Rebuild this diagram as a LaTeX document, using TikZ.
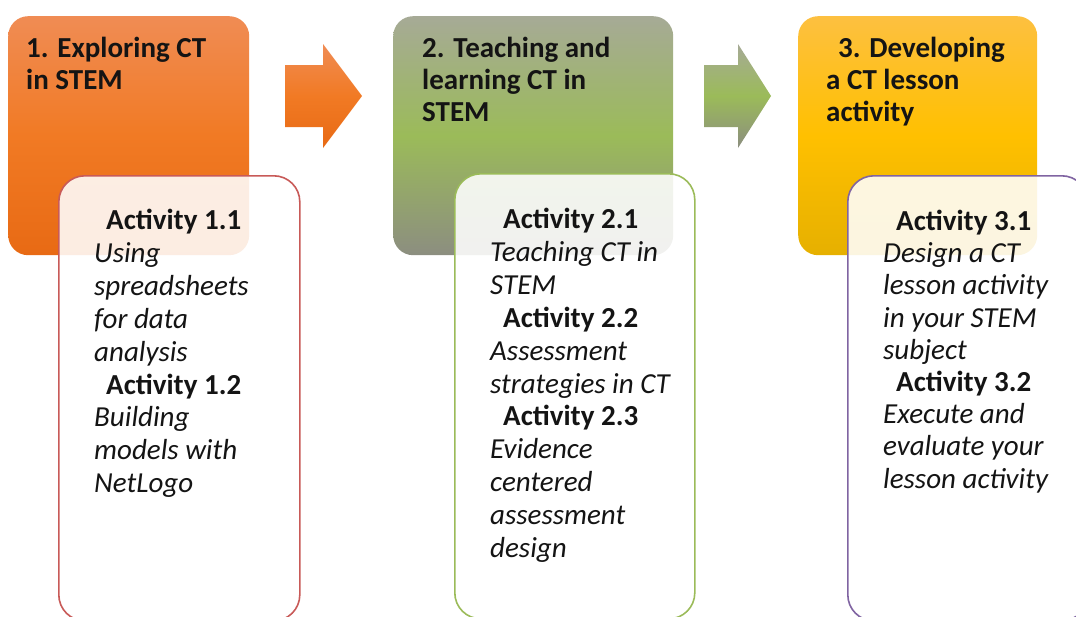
\documentclass[tikz,border=0pt]{standalone}
\usepackage{fontspec}
\setmainfont{Carlito}
\usetikzlibrary{positioning, calc}
\definecolor{orangeTop}{RGB}{240,140,84}
\definecolor{orangeMid}{RGB}{241,122,36}
\definecolor{orangeBot}{RGB}{232,106,20}
\definecolor{greenTop}{RGB}{166,170,150}
\definecolor{greenMid}{RGB}{155,187,89}
\definecolor{greenBot}{RGB}{140,142,128}
\definecolor{goldTop}{RGB}{253,192,64}
\definecolor{goldMid}{RGB}{255,192,0}
\definecolor{goldBot}{RGB}{230,176,0}
\definecolor{borderRed}{RGB}{200,90,88}
\definecolor{borderGreen}{RGB}{155,187,89}
\definecolor{borderPurple}{RGB}{128,100,162}
\definecolor{textDark}{RGB}{20,20,20}

\begin{document}
\begin{tikzpicture}[
    x=1pt, y=-1pt,
    every node/.style={text=textDark},
    stage/.style={rounded corners=20pt, anchor=north west, inner sep=0pt,
        minimum height=239pt},
    title/.style={anchor=north west, align=left, inner sep=0pt,
        font=\fontsize{29}{32}\selectfont\bfseries},
    activitybox/.style={rounded corners=26pt, anchor=north west, inner sep=0pt,
        fill=white, fill opacity=0.88, line width=1.6pt, minimum height=445pt},
    activitytext/.style={anchor=north west, align=left, inner sep=0pt,
        font=\fontsize{29}{32.9}\selectfont},
    tightertext/.style={activitytext, font=\fontsize{29}{32.2}\selectfont}
]
    \useasboundingbox (0,0) rectangle (1076,616);

    % stage boxes
    \node[stage, minimum width=241pt, top color=orangeTop, bottom color=orangeBot,
        middle color=orangeMid] (stageA) at (8,16) {};
    \node[stage, minimum width=280pt, top color=greenTop, bottom color=greenBot,
        middle color=greenMid] (stageB) at (393,16) {};
    \node[stage, minimum width=239pt, top color=goldTop, bottom color=goldBot,
        middle color=goldMid] (stageC) at (798,16) {};

    \node[title] (titleA) at (26,37) {1. Exploring CT\\in STEM};
    \node[title] (titleB) at (422,37) {2. Teaching and\\learning CT in\\STEM};
    \node[title] (titleC) at (826,37) {\hspace*{12pt}3. Developing\\a CT lesson\\activity};

    % block arrows between the stages
    \coordinate (arrowA) at (285,96);
    \coordinate (arrowB) at (704,96);
    \shade[top color=orangeTop, bottom color=orangeBot, middle color=orangeMid]
        (arrowA) ++(0,-31) -- ++(38,0) -- ++(0,-21) -- ++(39,52) -- ++(-39,52)
        -- ++(0,-21) -- ++(-38,0) -- cycle;
    \shade[top color=greenTop, bottom color=greenBot, middle color=greenMid]
        (arrowB) ++(0,-31) -- ++(34,0) -- ++(0,-21) -- ++(33,52) -- ++(-33,52)
        -- ++(0,-21) -- ++(-34,0) -- cycle;

    % activity boxes
    \node[activitybox, draw=borderRed, minimum width=241pt] (actA) at (58,175) {};
    \node[activitybox, draw=borderGreen, minimum width=240pt] (actB) at (454,173) {};
    \node[activitybox, draw=borderPurple, minimum width=240pt] (actC) at (847,175) {};

    \node[activitytext] (textA) at (94,209) {%
        \hspace*{12pt}\textbf{Activity 1.1}\\
        \textit{Using}\\
        \textit{spreadsheets}\\
        \textit{for data}\\
        \textit{analysis}\\
        \hspace*{12pt}\textbf{Activity 1.2}\\
        \textit{Building}\\
        \textit{models with}\\
        \textit{NetLogo}};
    \node[activitytext] (textB) at (490,208) {%
        \hspace*{13pt}\textbf{Activity 2.1}\\
        \textit{Teaching CT in}\\
        \textit{STEM}\\
        \hspace*{13pt}\textbf{Activity 2.2}\\
        \textit{Assessment}\\
        \textit{strategies in CT}\\
        \hspace*{13pt}\textbf{Activity 2.3}\\
        \textit{Evidence}\\
        \textit{centered}\\
        \textit{assessment}\\
        \textit{design}};
    \node[tightertext] (textC) at (883,210) {%
        \hspace*{13pt}\textbf{Activity 3.1}\\
        \textit{Design a CT}\\
        \textit{lesson activity}\\
        \textit{in your STEM}\\
        \textit{subject}\\
        \hspace*{13pt}\textbf{Activity 3.2}\\
        \textit{Execute and}\\
        \textit{evaluate your}\\
        \textit{lesson activity}};
\end{tikzpicture}
\end{document}
